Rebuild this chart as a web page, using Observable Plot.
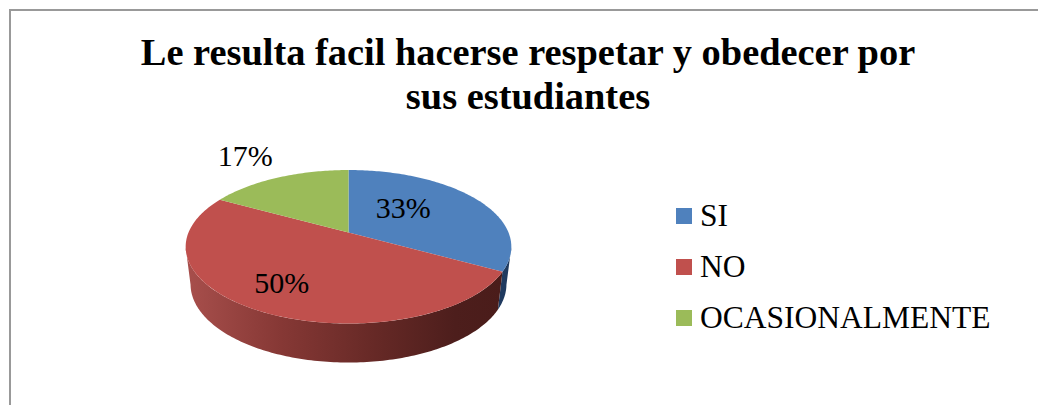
<!DOCTYPE html>
<html lang="es">
<head>
<meta charset="utf-8">
<script src="https://cdn.jsdelivr.net/npm/d3@7"></script>
<script src="https://cdn.jsdelivr.net/npm/@observablehq/plot@0.6"></script>
<style>
  html, body { margin: 0; padding: 0; background: #fff; }
  #chart { position: relative; width: 1038px; height: 405px; overflow: hidden; font-family: "Liberation Serif", serif; color: #000; }
  #frame { position: absolute; left: 9px; top: 9px; right: -4px; bottom: -4px; border-left: 2px solid #999; border-top: 2px solid #999; }
  #title { position: absolute; left: 28px; width: 1000px; top: 30px; margin: 0; text-align: center; font-size: 38.4px; line-height: 44px; font-weight: bold; }
  #plot { position: absolute; left: 0; top: 130px; }
  #legend { position: absolute; left: 676px; top: 190.5px; }
  .row { display: flex; align-items: center; height: 51px; font-size: 31.5px; white-space: nowrap; }
  .swatch { width: 16px; height: 16px; margin-right: 8px; flex: none; }
</style>
</head>
<body>
<div id="chart">
  <div id="frame"></div>
  <h2 id="title"></h2>
  <div id="plot"></div>
  <div id="legend"></div>
</div>
<script>
const titleLines = ["Le resulta facil hacerse respetar y obedecer por", "sus estudiantes"];
const categories = ["SI", "NO", "OCASIONALMENTE"];
const percents = [33, 50, 17];
const colors = ["#4F81BD", "#C0504D", "#9BBB59"];

// Tilted-disc view of the pie
const persp = 0.1857;
const face = (deg, r = 1) => {
  const a = deg * Math.PI / 180, s = r * Math.sin(a), u = r * Math.cos(a), w = 1 + persp * u;
  return {X: s / w, Y: u / w};
};
const base = ({X, Y}) => ({X: X * 0.97, Y: -0.695 + (Y + 0.189) * 1.02});

const cum = d3.cumsum(percents);
const total = cum[cum.length - 1];
const slices = categories.map((category, i) => ({
  category,
  percent: percents[i],
  start: (i ? cum[i - 1] : 0) / total * 360,
  end: cum[i] / total * 360
}));

const arc = (from, to) => {
  const n = Math.max(2, Math.ceil(Math.abs(to - from)));
  return d3.range(n + 1).map(k => from + (to - from) * k / n);
};
const faces = slices.flatMap(s => [
  {category: s.category, ...face(0, 0)},
  ...arc(s.start, s.end).map(d => ({category: s.category, ...face(d)}))
]);

const degrees = arc(0, 360);
const rightDeg = d3.greatest(degrees, d => face(d).X);
const leftDeg = d3.least(degrees, d => face(d).X);
const wall = (from, to) => {
  const top = arc(from, to).map(d => face(d));
  return [...top, ...top.slice().reverse().map(base)];
};
const blueWall = wall(rightDeg, slices[0].end);
const redWall = wall(slices[0].end, leftDeg);

const labelLayout = [
  {r: 0.42, dx: -1, dy: -9},
  {r: 0.73, dx: -3, dy: -3},
  {r: 1.4, dx: -10, dy: -3}
];
const labelMark = (s, i) => {
  const mid = (s.start + s.end) / 2, p = face(mid, labelLayout[i].r);
  return Plot.text([{...p, label: s.percent + "%"}], {
    x: "X", y: "Y", text: "label", dx: labelLayout[i].dx, dy: labelLayout[i].dy,
    fontSize: 30, fontFamily: "Liberation Serif", fill: "#000"
  });
};

const gradientDefs = () => {
  const defs = d3.create("svg:defs");
  const red = defs.append("linearGradient").attr("id", "wallRed");
  [[0, "#A84F4C"], [0.3, "#863835"], [0.6, "#662926"], [0.85, "#4D1E1C"], [1, "#4A1C1A"]]
    .forEach(([o, c]) => red.append("stop").attr("offset", o).attr("stop-color", c));
  return defs.node();
};

const plot = Plot.plot({
  width: 1038,
  height: 275,
  margin: 0,
  axis: null,
  x: {domain: [-1, 1], range: [188, 508]},
  y: {domain: [-1, 1], range: [176.1, 27.9]},
  color: {domain: categories, range: colors},
  style: {background: "transparent"},
  marks: [
    gradientDefs,
    Plot.line(blueWall, {x: "X", y: "Y", fill: "#1F3A5F", stroke: "none"}),
    Plot.line(redWall, {x: "X", y: "Y", fill: "url(#wallRed)", stroke: "none"}),
    Plot.line(faces, {x: "X", y: "Y", z: "category", fill: "category", stroke: "none"}),
    ...slices.map(labelMark)
  ]
});
document.getElementById("plot").append(plot);

document.getElementById("title").innerHTML = titleLines.join("<br>");
const legend = d3.select("#legend");
categories.forEach((c, i) => {
  const row = legend.append("div").attr("class", "row");
  row.append("span").attr("class", "swatch").style("background", colors[i]);
  row.append("span").text(c);
});
</script>
</body>
</html>
